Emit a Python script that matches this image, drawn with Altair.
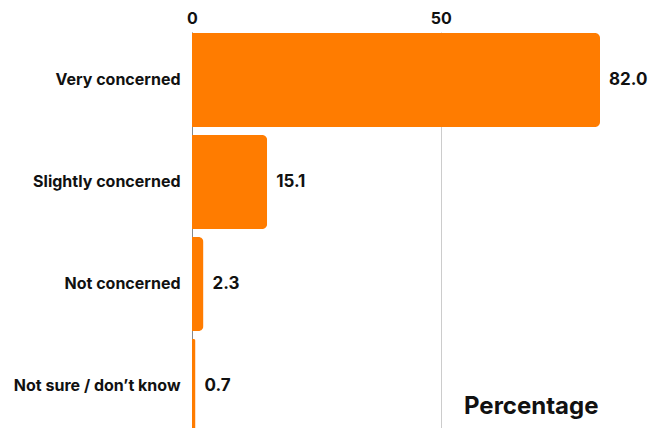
import altair as alt
import pandas as pd

categories = ["Very concerned", "Slightly concerned", "Not concerned", "Not sure / don’t know"]
values = [82.0, 15.1, 2.3, 0.7]

df = pd.DataFrame({"category": categories, "value": values})

FONT = "Inter"

base = alt.Chart(df).encode(
    y=alt.Y("category:N", sort=categories,
            scale=alt.Scale(paddingInner=0.08, paddingOuter=0.01),
            axis=alt.Axis(title=None, labelFont=FONT, labelFontWeight="bold",
                          labelFontSize=16, labelColor="#111111", labelPadding=12,
                          ticks=False, domain=True, domainColor="#888888",
                          domainWidth=1, labelLimit=300))
)

bars = base.mark_bar(color="#ff7c00", cornerRadiusEnd=5).encode(
    x=alt.X("value:Q",
            scale=alt.Scale(domain=[0, 82], nice=False),
            axis=alt.Axis(orient="top", values=[0, 50], title="Percentage",
                          titleFont=FONT, titleFontSize=24, titleFontWeight="bold",
                          titleColor="#111111", titleAnchor="end", titleAlign="right",
                          titleX=406, titleY=381, titleBaseline="alphabetic",
                          labelFont=FONT, labelFontWeight="bold", labelFontSize=16,
                          labelColor="#111111", labelPadding=6, labelFlush=False,
                          ticks=False, domain=False, grid=True,
                          gridColor="#cccccc", gridWidth=1))
)

text = base.mark_text(align="left", baseline="middle", dx=9, font=FONT,
                      fontWeight="bold", fontSize=17, color="#111111").encode(
    x="value:Q",
    text=alt.Text("value:Q", format=".1f")
)

chart = (bars + text).properties(
    width=408, height=402,
    autosize=alt.AutoSizeParams(type="none"),
    padding={"left": 184, "top": 24, "right": 50, "bottom": 10}
).configure_view(stroke=None)

chart.save("out.html", embed_options={"renderer": "svg", "actions": False})
